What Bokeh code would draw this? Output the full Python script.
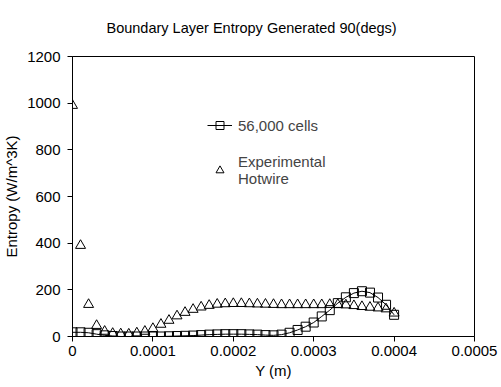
from bokeh.plotting import figure
from bokeh.models import (FixedTicker, CustomJSTickFormatter, Legend, LegendItem,
                          Range1d, ColumnDataSource)
from bokeh.embed import file_html
from bokeh.resources import INLINE

# ---- data ----
y_pos = [0.0, 0.00001, 0.00002, 0.00003, 0.00004, 0.00005, 0.00006, 0.00007, 0.00008, 0.00009,
         0.0001, 0.00011, 0.00012, 0.00013, 0.00014, 0.00015, 0.00016, 0.00017, 0.00018, 0.00019,
         0.0002, 0.00021, 0.00022, 0.00023, 0.00024, 0.00025, 0.00026, 0.00027, 0.00028, 0.00029,
         0.0003, 0.00031, 0.00032, 0.00033, 0.00034, 0.00035, 0.00036, 0.00037, 0.00038, 0.00039,
         0.0004]

cells_56000 = [18, 18, 16, 10, 5, 2, 0, 0, 0, 0,
               0, 0, 1, 2, 3, 4, 6, 8, 9, 10,
               10, 10, 9, 8, 6, 5, 8, 16, 28, 42,
               60, 86, 113, 143, 168, 186, 194, 188, 167, 136,
               93]

hotwire = [990, 390, 137, 47, 22, 13, 11, 10, 15, 22,
           34, 52, 69, 88, 103, 116, 126, 133, 138, 140,
           141, 141, 140, 139, 138, 137, 136, 136, 136, 136,
           136, 136, 137, 137, 135, 132, 128, 125, 122, 118,
           100]

x_ticks = [0, 0.0001, 0.0002, 0.0003, 0.0004, 0.0005]
y_ticks = [0, 200, 400, 600, 800, 1000, 1200]

title_text = "Boundary  Layer Entropy Generated 90(degs)"
x_label = "Y (m)"
y_label = "Entropy (W/m^3K)"
series_names = ["56,000 cells", "Experimental\nHotwire"]

FONT = "Liberation Sans"

p = figure(width=501, height=387, output_backend="svg", toolbar_location=None,
           x_range=Range1d(0, 0.0005), y_range=Range1d(0, 1200),
           min_border_left=72, min_border_right=27, min_border_top=56,
           min_border_bottom=51, title=title_text)

p.background_fill_color = "white"
p.border_fill_color = "white"
p.outline_line_color = "black"
p.outline_line_width = 1
p.xgrid.visible = False
p.ygrid.visible = False

p.title.text_font = FONT
p.title.text_font_size = "14.5px"
p.title.text_font_style = "normal"
p.title.align = "left"
p.title.offset = 34
p.title.vertical_align = "top"
p.title.text_color = "black"
p.title.standoff = 38

src = ColumnDataSource(dict(x=y_pos, cfd=cells_56000, exp=hotwire))

ln = p.line("x", "cfd", source=src, line_color="black", line_width=1)
sq = p.scatter("x", "cfd", source=src, marker="square", size=9,
               fill_color=None, line_color="black", line_width=1)
tr = p.scatter("x", "exp", source=src, marker="triangle", size=10,
               fill_color=None, line_color="black", line_width=1)

xa = p.below[0]
ya = p.left[0]

for ax in (xa, ya):
    ax.axis_line_color = "black"
    ax.major_tick_line_color = "black"
    ax.major_tick_out = 5
    ax.major_tick_in = 0
    ax.minor_tick_line_color = None
    ax.major_label_text_font = FONT
    ax.major_label_text_font_size = "15px"
    ax.major_label_text_color = "black"
    ax.axis_label_text_font = FONT
    ax.axis_label_text_font_size = "15px"
    ax.axis_label_text_font_style = "normal"
    ax.axis_label_text_color = "black"

xa.ticker = FixedTicker(ticks=x_ticks)
ya.ticker = FixedTicker(ticks=y_ticks)
xa.formatter = CustomJSTickFormatter(code="return tick == 0 ? '0' : tick.toFixed(4);")
xa.axis_label = x_label
ya.axis_label = y_label
xa.major_label_standoff = 4
ya.major_label_standoff = 7
xa.axis_label_standoff = 3
ya.axis_label_standoff = 4

legend = Legend(items=[LegendItem(label=series_names[0], renderers=[ln, sq]),
                       LegendItem(label=series_names[1], renderers=[tr])],
                location=(135, 149), border_line_color=None,
                background_fill_alpha=0, label_text_font=FONT,
                label_text_font_size="15px", glyph_width=25, label_standoff=6,
                spacing=18, padding=0, margin=0, label_text_line_height=1.25)
p.add_layout(legend)

open("out.html", "w").write(file_html(p, INLINE))
